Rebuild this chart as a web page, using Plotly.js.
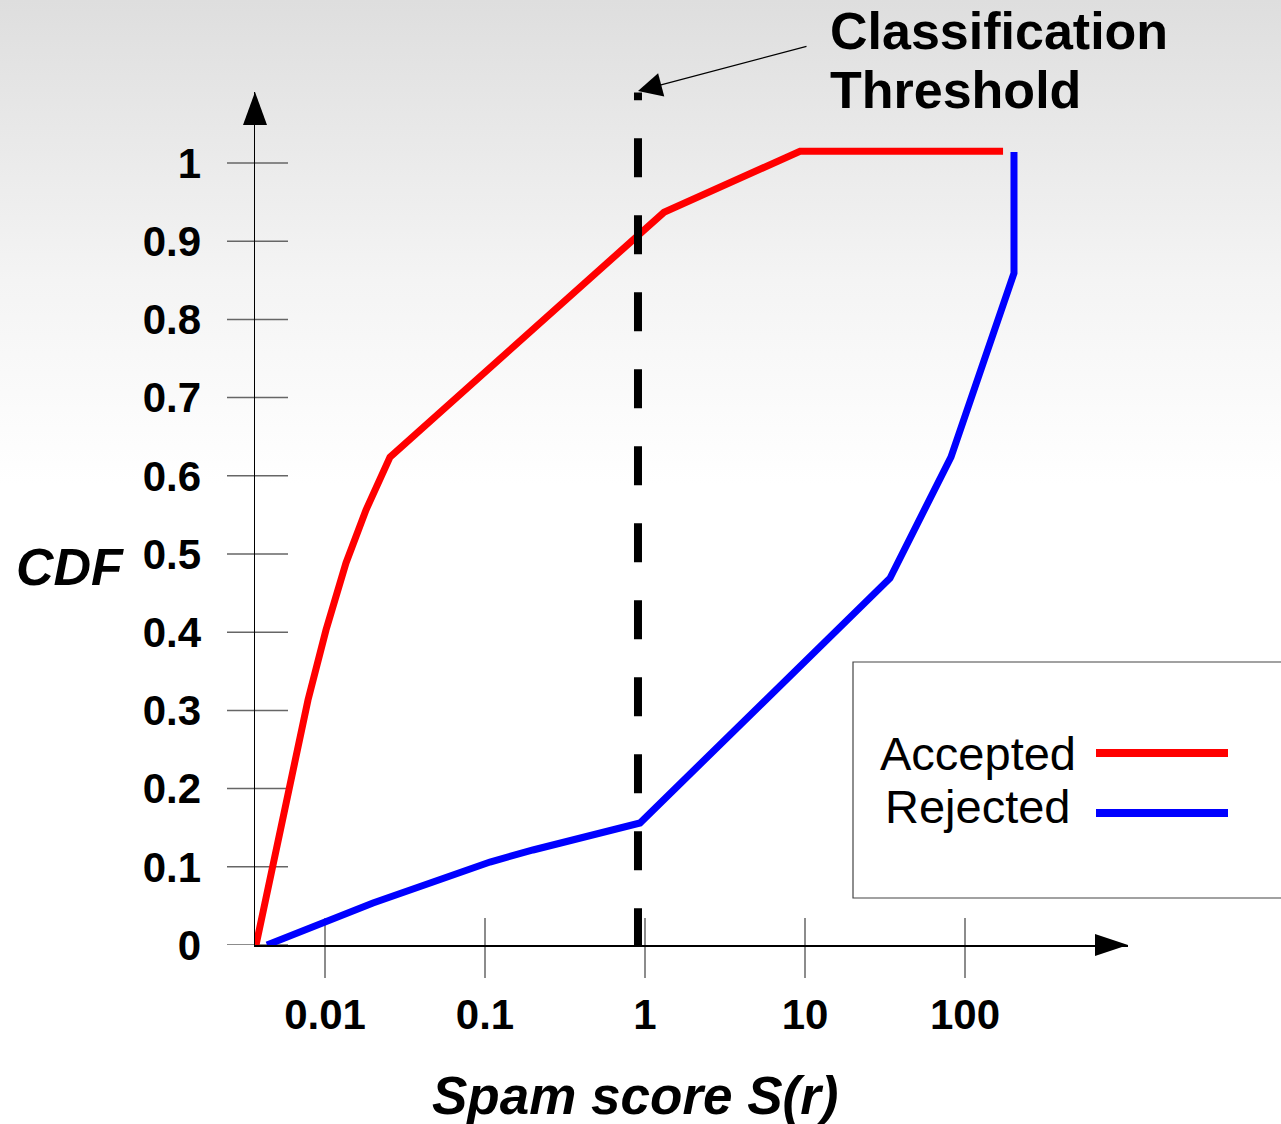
<!DOCTYPE html>
<html>
<head>
<meta charset="utf-8">
<script src="https://cdn.plot.ly/plotly-3.0.1.min.js"></script>
<style>
  html, body { margin: 0; padding: 0; }
  body { width: 1281px; height: 1124px; background: linear-gradient(to bottom, #dedede 0%, #f4f4f4 25%, #ffffff 43%, #ffffff 100%); }
  #chart { width: 1281px; height: 1124px; }
</style>
</head>
<body>
<div id="chart"></div>
<script>
// ---- data ----
const seriesNames = ['Accepted', 'Rejected'];
const acceptedX = [0.003706, 0.004732, 0.006043, 0.007830, 0.010145, 0.013527, 0.018036, 0.021447, 0.025481, 1.314, 9.31, 172.9];
const acceptedY = [0, 0.1023, 0.2110, 0.3133, 0.4028, 0.4885, 0.5563, 0.5908, 0.6240, 0.937, 1.015, 1.015];
const rejectedX = [0.004340, 0.006980, 0.019953, 0.047315, 0.10746, 0.19953, 0.47315, 0.66834, 0.93057, 33.97, 81.7, 202.4, 202.4];
const rejectedY = [0, 0.0166, 0.0537, 0.0806, 0.1061, 0.1215, 0.1407, 0.1496, 0.1560, 0.469, 0.624, 0.859, 1.014];
const thresholdX = [0.904, 0.904];
const thresholdY = [-0.003, 1.09];
const xTickVals = [0.01, 0.1, 1, 10, 100];
const xTickText = ['0.01', '0.1', '1', '10', '100'];
const yTickVals = [0, 0.1, 0.2, 0.3, 0.4, 0.5, 0.6, 0.7, 0.8, 0.9, 1];
const yTickText = ['0', '0.1', '0.2', '0.3', '0.4', '0.5', '0.6', '0.7', '0.8', '0.9', '1'];

// ---- layout geometry ----
const FW = 1281, FH = 1124;
const L = 255, T = 92, W = 873, H = 853;
const px = p => (p - L) / W;
const py = p => (T + H - p) / H;
const FONT = 'Liberation Sans, Arial, Helvetica, sans-serif';

const traces = [
  { x: acceptedX, y: acceptedY, name: seriesNames[0], type: 'scatter', mode: 'lines',
    line: { color: '#ff0000', width: 7 } },
  { x: rejectedX, y: rejectedY, name: seriesNames[1], type: 'scatter', mode: 'lines',
    line: { color: '#0000ff', width: 7 } },
  { x: thresholdX, y: thresholdY, name: 'Classification Threshold', type: 'scatter', mode: 'lines',
    line: { color: '#000000', width: 8, dash: '39px,38px' } }
];

const shapes = [];
// y tick marks crossing the axis
yTickVals.forEach(v => shapes.push({
  type: 'line', xref: 'paper', xsizemode: 'pixel', xanchor: 0, x0: -28, x1: 33,
  yref: 'y', y0: v, y1: v, line: { color: '#666', width: 1.5 }, layer: 'below'
}));
// x tick marks crossing the axis
xTickVals.forEach(v => shapes.push({
  type: 'line', xref: 'x', x0: v, x1: v,
  yref: 'paper', ysizemode: 'pixel', yanchor: 0, y0: -33, y1: 27,
  line: { color: '#666', width: 1.5 }, layer: 'below'
}));
// axis arrowheads
shapes.push({ type: 'path', xref: 'paper', xsizemode: 'pixel', xanchor: 0,
  yref: 'paper', ysizemode: 'pixel', yanchor: 1,
  path: 'M-12,-33 L0,0 L12,-33 Z', fillcolor: '#000', line: { width: 0 } });
shapes.push({ type: 'path', xref: 'paper', xsizemode: 'pixel', xanchor: 1,
  yref: 'paper', ysizemode: 'pixel', yanchor: 0,
  path: 'M-33,11 L0,0 L-33,-11 Z', fillcolor: '#000', line: { width: 0 } });
// legend box and samples
shapes.push({ type: 'rect', xref: 'paper', yref: 'paper',
  x0: px(853), x1: px(1320), y0: py(898), y1: py(662),
  fillcolor: '#ffffff', line: { color: '#444', width: 1.2 } });
shapes.push({ type: 'line', xref: 'paper', yref: 'paper',
  x0: px(1096), x1: px(1228), y0: py(753), y1: py(753), line: { color: '#ff0000', width: 8 } });
shapes.push({ type: 'line', xref: 'paper', yref: 'paper',
  x0: px(1096), x1: px(1228), y0: py(813), y1: py(813), line: { color: '#0000ff', width: 8 } });

const annotations = [
  { text: 'Classification', xref: 'paper', yref: 'paper', x: px(828), y: py(31),
    xanchor: 'left', yanchor: 'middle', showarrow: false,
    font: { family: FONT, size: 52, weight: 'bold', color: '#000' } },
  { text: 'Threshold', xref: 'paper', yref: 'paper', x: px(828), y: py(90),
    xanchor: 'left', yanchor: 'middle', showarrow: false,
    font: { family: FONT, size: 52, weight: 'bold', color: '#000' } },
  { text: '', xref: 'x', yref: 'paper', x: Math.log10(thresholdX[0]), y: py(91),
    showarrow: true, ax: 170, ay: -45, arrowhead: 2, arrowsize: 4, arrowwidth: 1.2, arrowcolor: '#000' },
  { text: 'CDF', xref: 'paper', yref: 'paper', x: px(14), y: py(567),
    xanchor: 'left', yanchor: 'middle', showarrow: false,
    font: { family: FONT, size: 52, weight: 'bold', style: 'italic', color: '#000' } },
  { text: 'Spam score S(r)', xref: 'paper', yref: 'paper', x: px(635), y: py(1095),
    xanchor: 'center', yanchor: 'middle', showarrow: false,
    font: { family: FONT, size: 53, weight: 'bold', style: 'italic', color: '#000' } },
  { text: seriesNames[0], xref: 'paper', yref: 'paper', x: px(1078), y: py(753),
    xanchor: 'right', yanchor: 'middle', showarrow: false,
    font: { family: FONT, size: 47, color: '#000' } },
  { text: seriesNames[1], xref: 'paper', yref: 'paper', x: px(1073), y: py(806),
    xanchor: 'right', yanchor: 'middle', showarrow: false,
    font: { family: FONT, size: 47, color: '#000' } }
];

const layout = {
  width: FW, height: FH,
  margin: { l: L, r: FW - L - W, t: T, b: FH - T - H, pad: 0 },
  paper_bgcolor: 'rgba(0,0,0,0)', plot_bgcolor: 'rgba(0,0,0,0)',
  showlegend: false,
  font: { family: FONT, color: '#000' },
  xaxis: {
    type: 'log', range: [(L - 645) / 160, (L + W - 645) / 160],
    tickvals: xTickVals, ticktext: xTickText, ticks: '',
    tickfont: { family: FONT, size: 42, weight: 'bold', color: '#000' },
    ticklabelstandoff: 32,
    showgrid: false, zeroline: false, showline: true, linecolor: '#000', linewidth: 1.5,
    fixedrange: true
  },
  yaxis: {
    range: [0, H / 782], tickvals: yTickVals, ticktext: yTickText, ticks: '',
    tickfont: { family: FONT, size: 42, weight: 'bold', color: '#000' },
    ticklabelstandoff: 44,
    showgrid: false, zeroline: false, showline: true, linecolor: '#000', linewidth: 1.5,
    fixedrange: true
  },
  shapes: shapes,
  annotations: annotations
};

Plotly.newPlot('chart', traces, layout, { displayModeBar: false, staticPlot: true });
</script>
</body>
</html>
